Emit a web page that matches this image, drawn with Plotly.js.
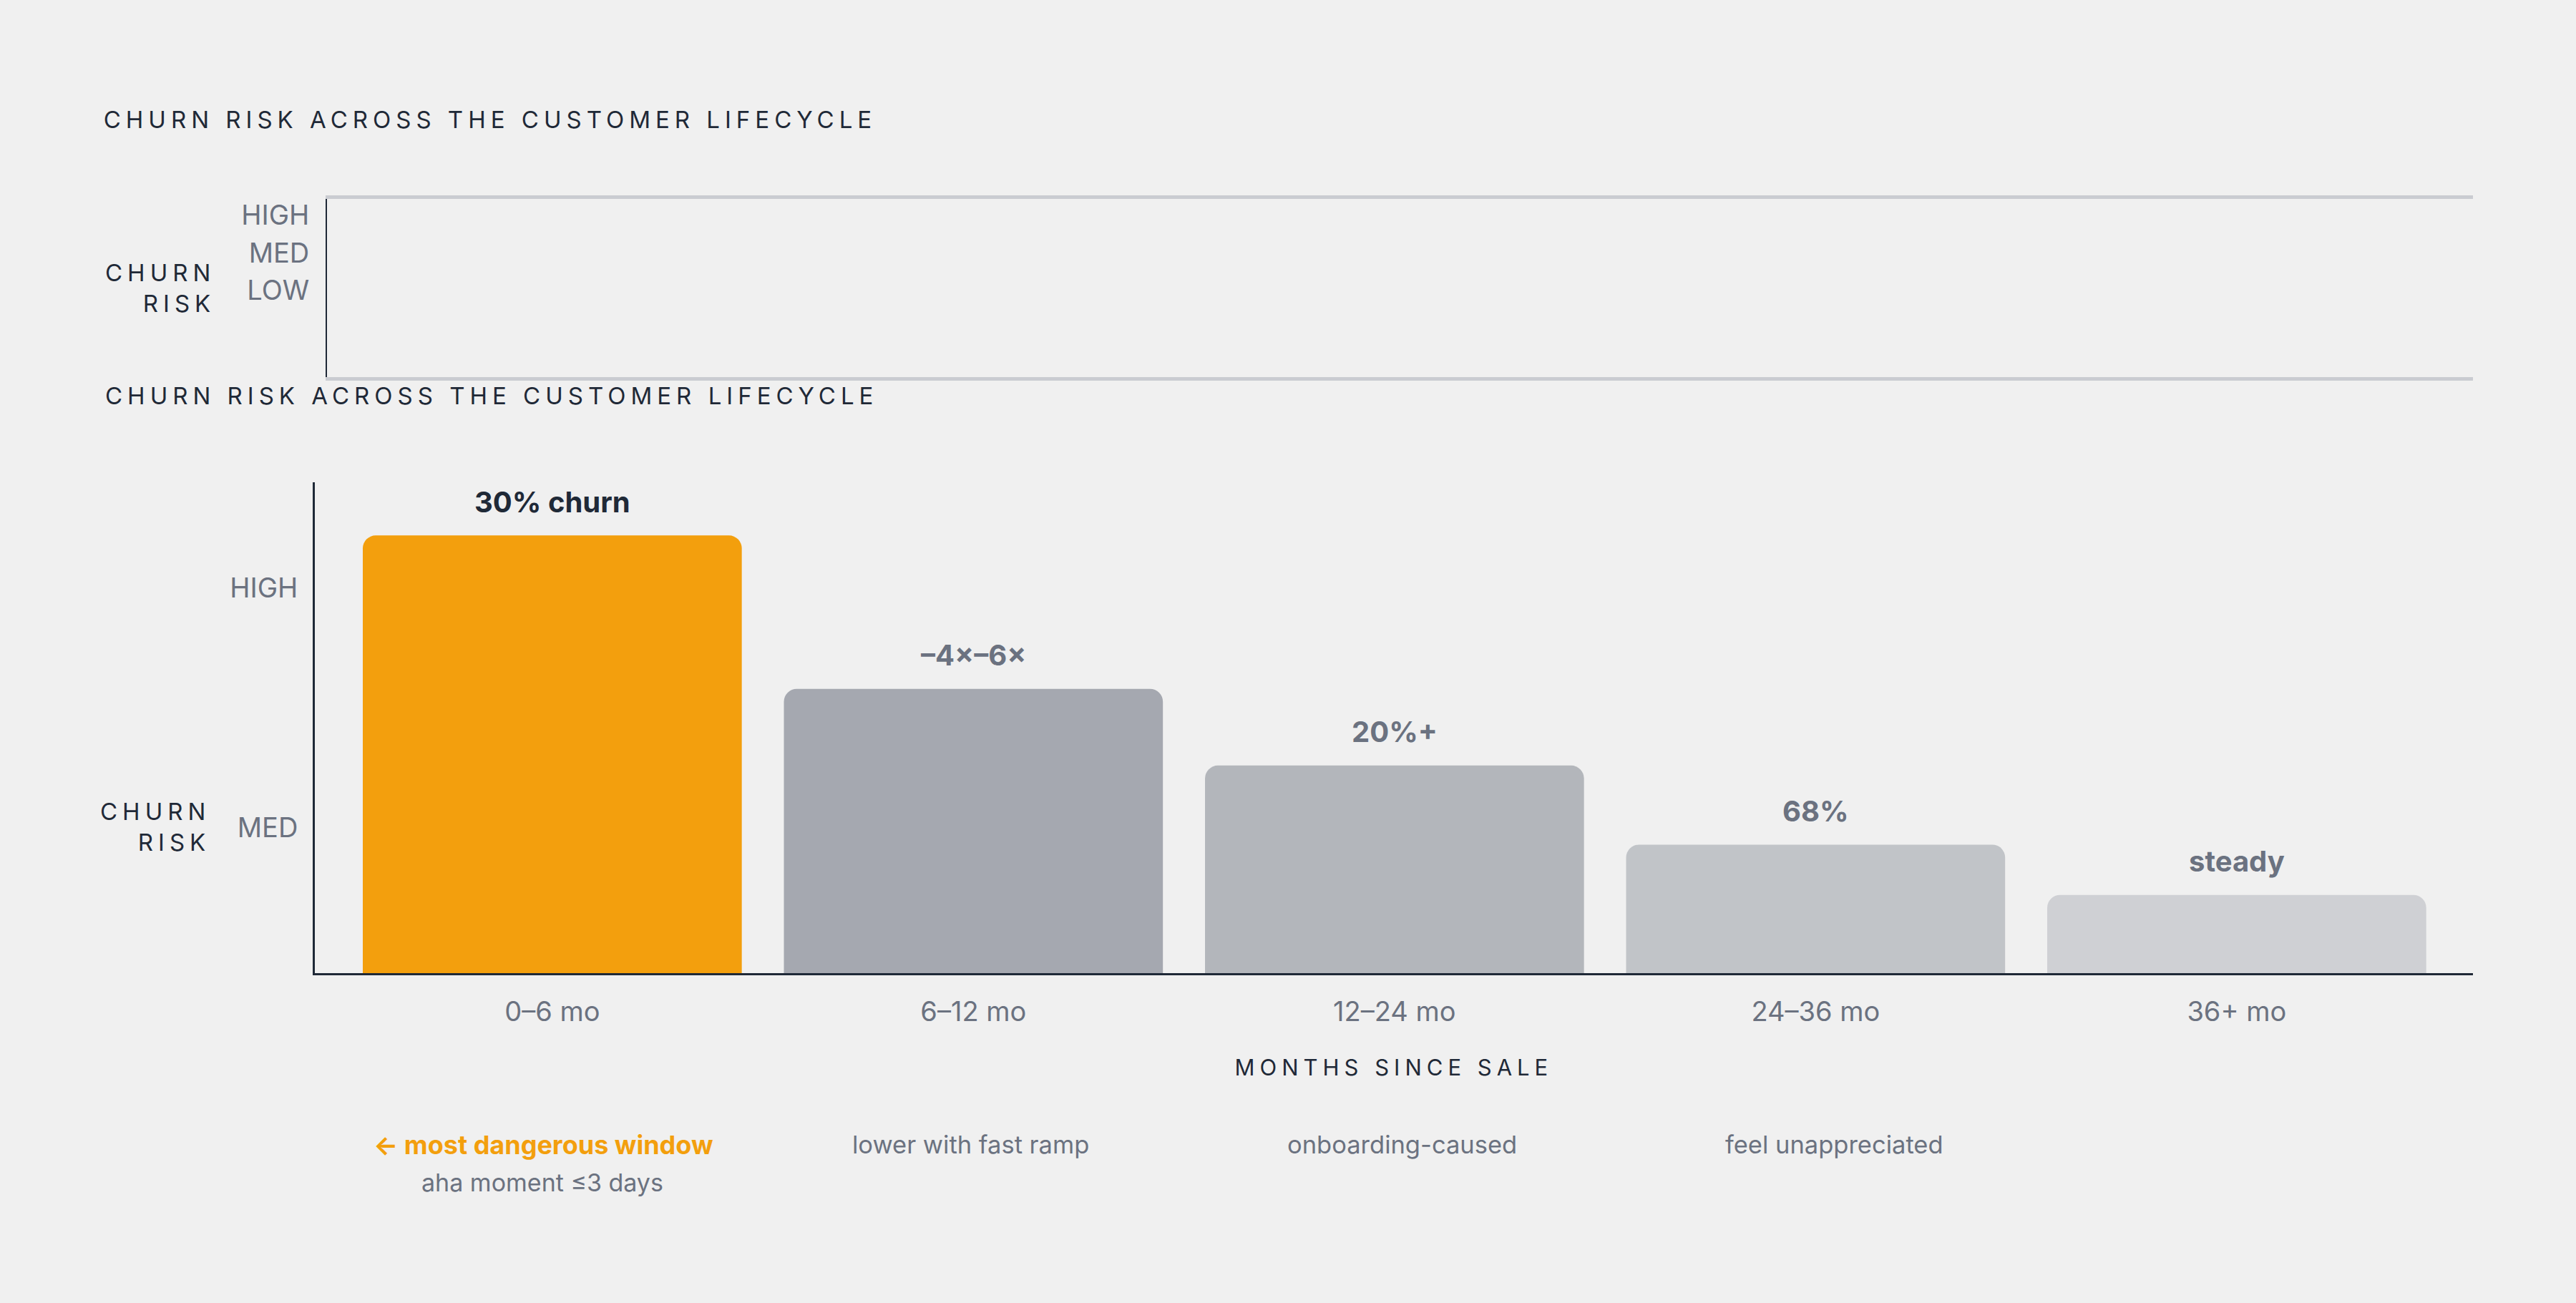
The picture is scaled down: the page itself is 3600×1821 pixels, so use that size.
<!DOCTYPE html>
<html>
<head>
<meta charset="utf-8">
<script src="https://cdn.plot.ly/plotly-3.0.1.min.js"></script>
<style>
  html, body { margin: 0; padding: 0; background: #f0f0f0; }
  #chart { width: 3600px; height: 1821px; }
</style>
</head>
<body>
<div id="chart"></div>
<script>
// data
var months = ['0–6 mo', '6–12 mo', '12–24 mo', '24–36 mo', '36+ mo'];
var riskScore = [3.22, 2.58, 2.26, 1.93, 1.72];
var barLabels = ['30% churn', '–4×–6×', '20%+', '68%', 'steady'];
var riskLevels = ['LOW', 'MED', 'HIGH'];
var riskLevelValues = [1, 2, 3];
var notes = ['← most dangerous window', 'lower with fast ramp', 'onboarding-caused', 'feel unappreciated'];
var subNote = 'aha moment ≤3 days';
var chartTitle = 'CHURN RISK ACROSS THE CUSTOMER LIFECYCLE';

// styles
var ink = '#1f2937';
var grey = '#6b7280';
var orange = '#f39f0d';
var barColors = [orange, '#a5a8b0', '#b3b6bb', '#c1c4c8', '#cfd0d4'];
var labelColors = [ink, grey, grey, grey, grey];
var font = 'Inter, "Noto Sans", sans-serif';

var bars = {
	type: 'bar',
	x: months,
	y: riskScore,
	width: 0.9,
	marker: {color: barColors, cornerradius: 18, line: {width: 0}},
	hoverinfo: 'skip',
	xaxis: 'x',
	yaxis: 'y'
};

// the empty panel on top only needs its axes
var emptyPanel = {
	type: 'scatter',
	mode: 'markers',
	x: months,
	y: months.map(function(){ return null; }),
	hoverinfo: 'skip',
	showlegend: false,
	xaxis: 'x2',
	yaxis: 'y2'
};

var annotations = [];

annotations.push({
	text: chartTitle, xref: 'paper', yref: 'paper', x: 0.0402, y: 0.6963,
	xanchor: 'left', yanchor: 'middle', showarrow: false,
	font: {family: font, size: 33, color: ink}
});
annotations.push({
	text: 'CHURN<br>RISK', xref: 'paper', yref: 'paper', x: 0.0842, y: 0.7787,
	xanchor: 'right', yanchor: 'middle', align: 'right', showarrow: false,
	font: {family: font, size: 33, color: ink}
});
annotations.push({
	text: 'CHURN<br>RISK', xref: 'paper', yref: 'paper', x: 0.0822, y: 0.3652,
	xanchor: 'right', yanchor: 'middle', align: 'right', showarrow: false,
	font: {family: font, size: 33, color: ink}
});
// LOW sits below the visible range of the main axis
annotations.push({
	text: riskLevels[0], xref: 'paper', yref: 'y', x: 0.117, y: riskLevelValues[0],
	xanchor: 'right', yanchor: 'middle', showarrow: false,
	font: {family: font, size: 38, color: grey}
});
annotations.push({
	text: 'MONTHS SINCE SALE', xref: 'x domain', yref: 'paper', x: 0.5, y: 0.1807,
	xanchor: 'center', yanchor: 'middle', showarrow: false,
	font: {family: font, size: 31, color: ink}
});

for (var i = 0; i < months.length; i++) {
	annotations.push({
		text: barLabels[i], xref: 'x', yref: 'y', x: months[i], y: riskScore[i],
		xanchor: 'center', yanchor: 'middle', yshift: 47, showarrow: false,
		font: {family: font, size: 40, color: labelColors[i], weight: 700}
	});
}

// notes sit in even slots along the bottom
for (var j = 0; j < notes.length; j++) {
	annotations.push({
		text: notes[j], xref: 'x domain', yref: 'paper', x: 0.1 + 0.2 * j, xshift: j == 0 ? 18 : 12, y: 0.1214,
		xanchor: 'center', yanchor: 'middle', showarrow: false,
		font: {family: font, size: j == 0 ? 36 : 34.5, color: j == 0 ? orange : grey, weight: j == 0 ? 700 : 400}
	});
}
annotations.push({
	text: subNote, xref: 'x domain', yref: 'paper', x: 0.1, xshift: 16, y: 0.0923,
	xanchor: 'center', yanchor: 'middle', showarrow: false,
	font: {family: font, size: 34, color: grey}
});

var layout = {
	width: 3600,
	height: 1821,
	margin: {l: 0, r: 0, t: 0, b: 0},
	paper_bgcolor: '#f0f0f0',
	plot_bgcolor: '#f0f0f0',
	showlegend: false,
	font: {family: font, color: grey},
	title: {
		text: chartTitle, x: 0.0402, xanchor: 'left', xref: 'paper',
		y: 0.908, yanchor: 'middle', yref: 'paper',
		font: {family: font, size: 33, color: ink}
	},
	xaxis: {
		domain: [0.1222, 0.96], anchor: 'y', type: 'category',
		range: [-0.564, 4.561],
		showline: true, linecolor: ink, linewidth: 3,
		showgrid: false, zeroline: false, ticks: '',
		ticklabelstandoff: 18,
		tickfont: {family: font, size: 38, color: grey}
	},
	yaxis: {
		domain: [0.2532, 0.6299], anchor: 'x',
		range: [1.394, 3.442],
		tickvals: riskLevelValues.slice(1), ticktext: riskLevels.slice(1),
		showline: true, linecolor: ink, linewidth: 3,
		showgrid: false, zeroline: false, ticks: '',
		ticklabelstandoff: 13,
		tickfont: {family: font, size: 38, color: grey}
	},
	xaxis2: {
		domain: [0.1269, 0.96], anchor: 'y2', type: 'category',
		range: [-0.564, 4.561],
		showline: true, mirror: true, linecolor: '#caccd1', linewidth: 5,
		showgrid: false, zeroline: false, ticks: '', showticklabels: false
	},
	yaxis2: {
		domain: [0.7106, 0.8473], anchor: 'x2',
		range: [-1.305, 3.438],
		tickvals: riskLevelValues, ticktext: riskLevels,
		showline: true, linecolor: ink, linewidth: 2,
		showgrid: false, zeroline: false, ticks: '',
		ticklabelstandoff: 15,
		tickfont: {family: font, size: 38, color: grey}
	},
	annotations: annotations
};

Plotly.newPlot('chart', [emptyPanel, bars], layout, {staticPlot: true}).then(function(gd){
	// spaced-out capitals for titles
	gd.querySelectorAll('text').forEach(function(t){
		if (!/^[A-Z ]{5,}$/.test(t.textContent)) return;
		if (t.classList.contains('annotation-text') && t.textContent == chartTitle) {
			// keep the left edge where plotly put it
			var bb = t.getBBox();
			t.setAttribute('text-anchor', 'start');
			t.setAttribute('x', bb.x);
		}
		t.style.letterSpacing = '7px';
	});
});
</script>
</body>
</html>
